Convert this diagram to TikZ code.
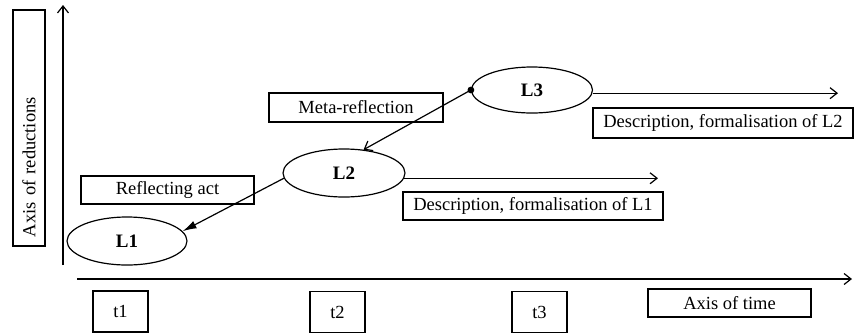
\documentclass[tikz,border=0pt]{standalone}
\usepackage{fontspec}
\setmainfont{Liberation Serif}
\usetikzlibrary{arrows.meta,shapes.geometric}
\begin{document}
\begin{tikzpicture}[x=1pt,y=-1pt,
  line width=1.2pt,
  lbl/.style={draw, rectangle, inner sep=0pt, font=\fontsize{18.5}{22}\selectfont},
  lvl/.style={draw, ellipse, inner sep=0pt, font=\bfseries\fontsize{19}{22}\selectfont},
  openarrow/.style={-{Straight Barb[length=7pt,width=11pt]}},
  fillarrow/.style={-{Latex[length=14pt,width=8pt]}},
]
\useasboundingbox (0,0) rectangle (855,333);

% axes
\coordinate (vbot) at (63,265);
\coordinate (vtop) at (63,5);
\coordinate (hleft) at (77,279);
\coordinate (hright) at (852,279);
\draw[openarrow] (vbot) -- (vtop);
\draw[openarrow] (hleft) -- (hright);

\node[lbl, rotate=90, minimum width=236pt, minimum height=32pt, text width=218pt, align=left, inner xsep=9pt] (axred) at (29,128) {Axis of reductions};

% levels
\node[lvl, minimum width=120pt, minimum height=48pt] (L1) at (127,241) {L1};
\node[lvl, minimum width=122pt, minimum height=48pt] (L2) at (344,173) {L2};
\node[lvl, minimum width=121pt, minimum height=46pt] (L3) at (532,90) {L3};

% labels
\node[lbl, minimum width=173pt, minimum height=28pt] (refl) at (167.5,190) {Reflecting act};
\node[lbl, minimum width=174pt, minimum height=29pt] (meta) at (356,107.5) {Meta-reflection};
\node[lbl, minimum width=260pt, minimum height=28pt] (d1) at (533,206) {Description, formalisation of L1};
\node[lbl, minimum width=260pt, minimum height=30pt] (d2) at (723,123) {Description, formalisation of L2};

% time boxes
\node[lbl, minimum width=55pt, minimum height=41pt] (t1) at (120.5,311.5) {t1};
\node[lbl, minimum width=55pt, minimum height=41pt] (t2) at (337.5,312) {t2};
\node[lbl, minimum width=55pt, minimum height=41pt] (t3) at (539.5,312) {t3};
\node[lbl, minimum width=163pt, minimum height=28pt] (atime) at (729.5,303) {Axis of time};

% connectors
\fill (L3.west) circle (3.4pt);
\draw[openarrow] (L3.west) -- (L2.50);
\draw[fillarrow] (L2.185) -- (L1.10);

\coordinate (e1) at (658,178);
\coordinate (e2) at (838,93);
\draw[openarrow] (L2.-5) -- (L2.-5 -| e1);
\draw[openarrow] (L3.-3) -- (L3.-3 -| e2);
\end{tikzpicture}
\end{document}
